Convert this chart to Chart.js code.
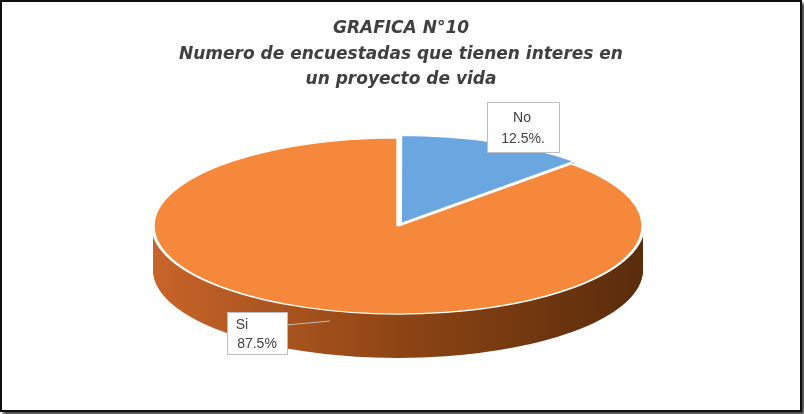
<!DOCTYPE html>
<html><head><meta charset="utf-8">
<script src="https://cdn.jsdelivr.net/npm/chart.js@4"></script>
<style>
html,body{margin:0;padding:0;background:#fff;}
#wrap{position:absolute;left:0;top:0;width:798px;height:408px;border:2px solid #111;box-shadow:3px 3px 3px #444;background:#fff;}
canvas{display:block;}
</style></head><body>
<div id="wrap"><canvas id="c" width="798" height="408"></canvas></div>
<script>
const labels = ['No', 'Si'];
const values = [12.5, 87.5];
const pctLabels = ['12.5%.', '87.5%'];
const titleLines = ['GRAFICA N°10', 'Numero de encuestadas que tienen interes en', 'un proyecto de vida'];
const topColors = ['#6aa6e0', '#f5883a'];

const CX = 396, CY = 224, RX = 245, RY = 88, DEPTH = 44;

const pie3d = {
  id: 'pie3d',
  beforeDatasetsDraw(chart) {
    const ctx = chart.ctx;
    const meta = chart.getDatasetMeta(0);
    const a0 = meta.data[0];
    const cx = a0.x, cy = a0.y, r = a0.outerRadius;
    const sx = RX / r, sy = RY / r;
    const setT = (dy) => {
      ctx.setTransform(1, 0, 0, 1, 0, 0);
      ctx.translate(CX, CY + dy);
      ctx.scale(sx, sy);
      ctx.translate(-cx, -cy);
    };
    const sideFills = [];
    let g = ctx.createLinearGradient(cx - r, 0, cx + r, 0);
    g.addColorStop(0, '#c8642a'); g.addColorStop(0.5, '#8e4514'); g.addColorStop(1, '#5a2c0c');
    sideFills[1] = g;
    sideFills[0] = '#3f6f9f';
    ctx.save();
    for (let d = DEPTH; d >= 1; d--) {
      setT(d);
      meta.data.forEach((el, i) => {
        const o = el.options;
        const bg = o.backgroundColor, bc = o.borderColor, bw = o.borderWidth;
        o.backgroundColor = sideFills[i]; o.borderColor = sideFills[i]; o.borderWidth = 0;
        el.draw(ctx);
        o.backgroundColor = bg; o.borderColor = bc; o.borderWidth = bw;
      });
    }
    setT(0);
    meta.data.forEach(el => el.draw(ctx));
    ctx.restore();
    return false;
  },
  afterDraw(chart) {
    const ctx = chart.ctx;
    ctx.save();
    ctx.font = '14px "Liberation Sans", Arial, sans-serif';
    ctx.fillStyle = '#404040';
    ctx.strokeStyle = '#bfbfbf';
    ctx.lineWidth = 1;
    // No label
    ctx.fillStyle = '#fff';
    ctx.fillRect(485, 100, 72, 50); ctx.strokeRect(485.5, 100.5, 72, 50);
    ctx.fillStyle = '#404040';
    ctx.textAlign = 'center';
    ctx.fillText(labels[0], 520, 120);
    ctx.fillText(pctLabels[0], 521, 141);
    // Si label
    ctx.strokeStyle = '#bfbfbf';
    ctx.beginPath(); ctx.moveTo(284, 323); ctx.lineTo(328, 319); ctx.stroke();
    ctx.fillStyle = '#fff';
    ctx.fillRect(225, 310, 60, 42); ctx.strokeRect(225.5, 310.5, 60, 42);
    ctx.fillStyle = '#404040';
    ctx.fillText(labels[1], 240, 327);
    ctx.fillText(pctLabels[1], 255, 346);
    ctx.restore();
  }
};

new Chart(document.getElementById('c'), {
  type: 'pie',
  data: { labels, datasets: [{ data: values, backgroundColor: topColors, borderColor: '#ffffff', borderWidth: 2, offset: [14, 0] }] },
  options: {
    responsive: false, animation: false,
    layout: { padding: { top: 10, bottom: 10 } },
    plugins: {
      legend: { display: false }, tooltip: { enabled: false },
      title: { display: true, text: titleLines, color: '#404040',
        font: { size: 17, weight: 'bold', style: 'italic', family: '"DejaVu Sans", sans-serif', lineHeight: 1.5 },
        padding: { top: 4, bottom: 4 } }
    }
  },
  plugins: [pie3d]
});
</script></body></html>
